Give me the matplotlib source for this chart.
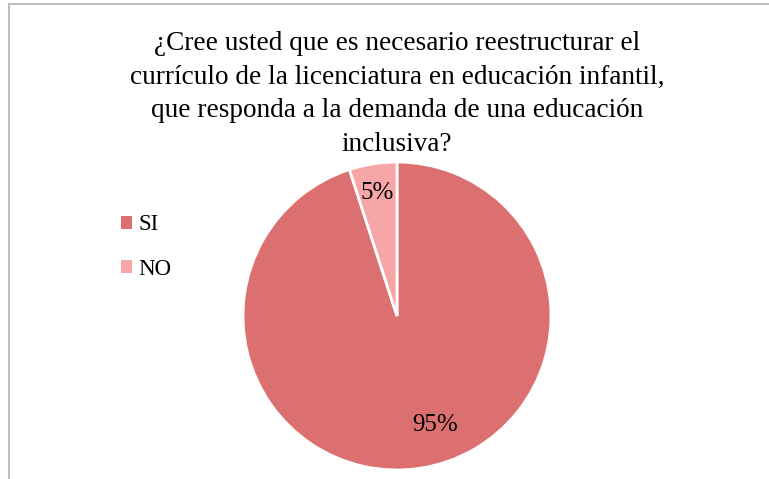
import numpy as np
import matplotlib.pyplot as plt
from matplotlib.lines import Line2D
from matplotlib.patches import Patch

# respuestas de la encuesta
categorias = ['SI', 'NO']
porcentajes = [95, 5]
colores = ['#DC7070', '#F7A6A8']
titulo = ('¿Cree usted que es necesario reestructurar el\n'
          'currículo de la licenciatura en educación infantil,\n'
          'que responda a la demanda de una educación\n'
          'inclusiva?')

plt.rcParams['font.family'] = ['Liberation Serif', 'DejaVu Serif']

fig = plt.figure(figsize=(7.69, 4.79), dpi=100)
fig.patch.set_facecolor('white')

# marco del grafico (solo izquierda y arriba)
fig.add_artist(Line2D([9/769, 9/769], [0, 1 - 3.5/479], color='#BFBFBF', lw=1.5))
fig.add_artist(Line2D([9/769, 1], [1 - 3.5/479, 1 - 3.5/479], color='#BFBFBF', lw=1.5))

fig.text(397/769, 1 - 94/479, titulo, ha='center', va='center',
         fontsize=19.6, linespacing=1.46)

# pastel: centro (397, 316), radio 154 px
r = 154
ax = fig.add_axes([(397 - r)/769, 1 - (316 + r)/479, 2*r/769, 2*r/479])
cunas, textos, pct = ax.pie(porcentajes, colors=colores, startangle=90,
                            counterclock=False, autopct='%1.0f%%',
                            pctdistance=0.8,
                            wedgeprops=dict(edgecolor='white', linewidth=2),
                            textprops=dict(fontsize=18, color='black'))
ax.set_aspect('equal')
ax.set_xlim(-1, 1)
ax.set_ylim(-1, 1)
pct[0].set_position((0.25, -0.71))
pct[1].set_position((-0.13, 0.8))

# leyenda
manijas = [Patch(facecolor=c, edgecolor='none') for c in colores]
fig.legend(manijas, categorias, loc='center left',
           bbox_to_anchor=(100/769, 1 - 247/479), frameon=False,
           fontsize=16.5, handlelength=0.5, handleheight=0.5,
           handletextpad=0.28, labelspacing=1.03)

fig.savefig('out.png', dpi=100, facecolor='white')
